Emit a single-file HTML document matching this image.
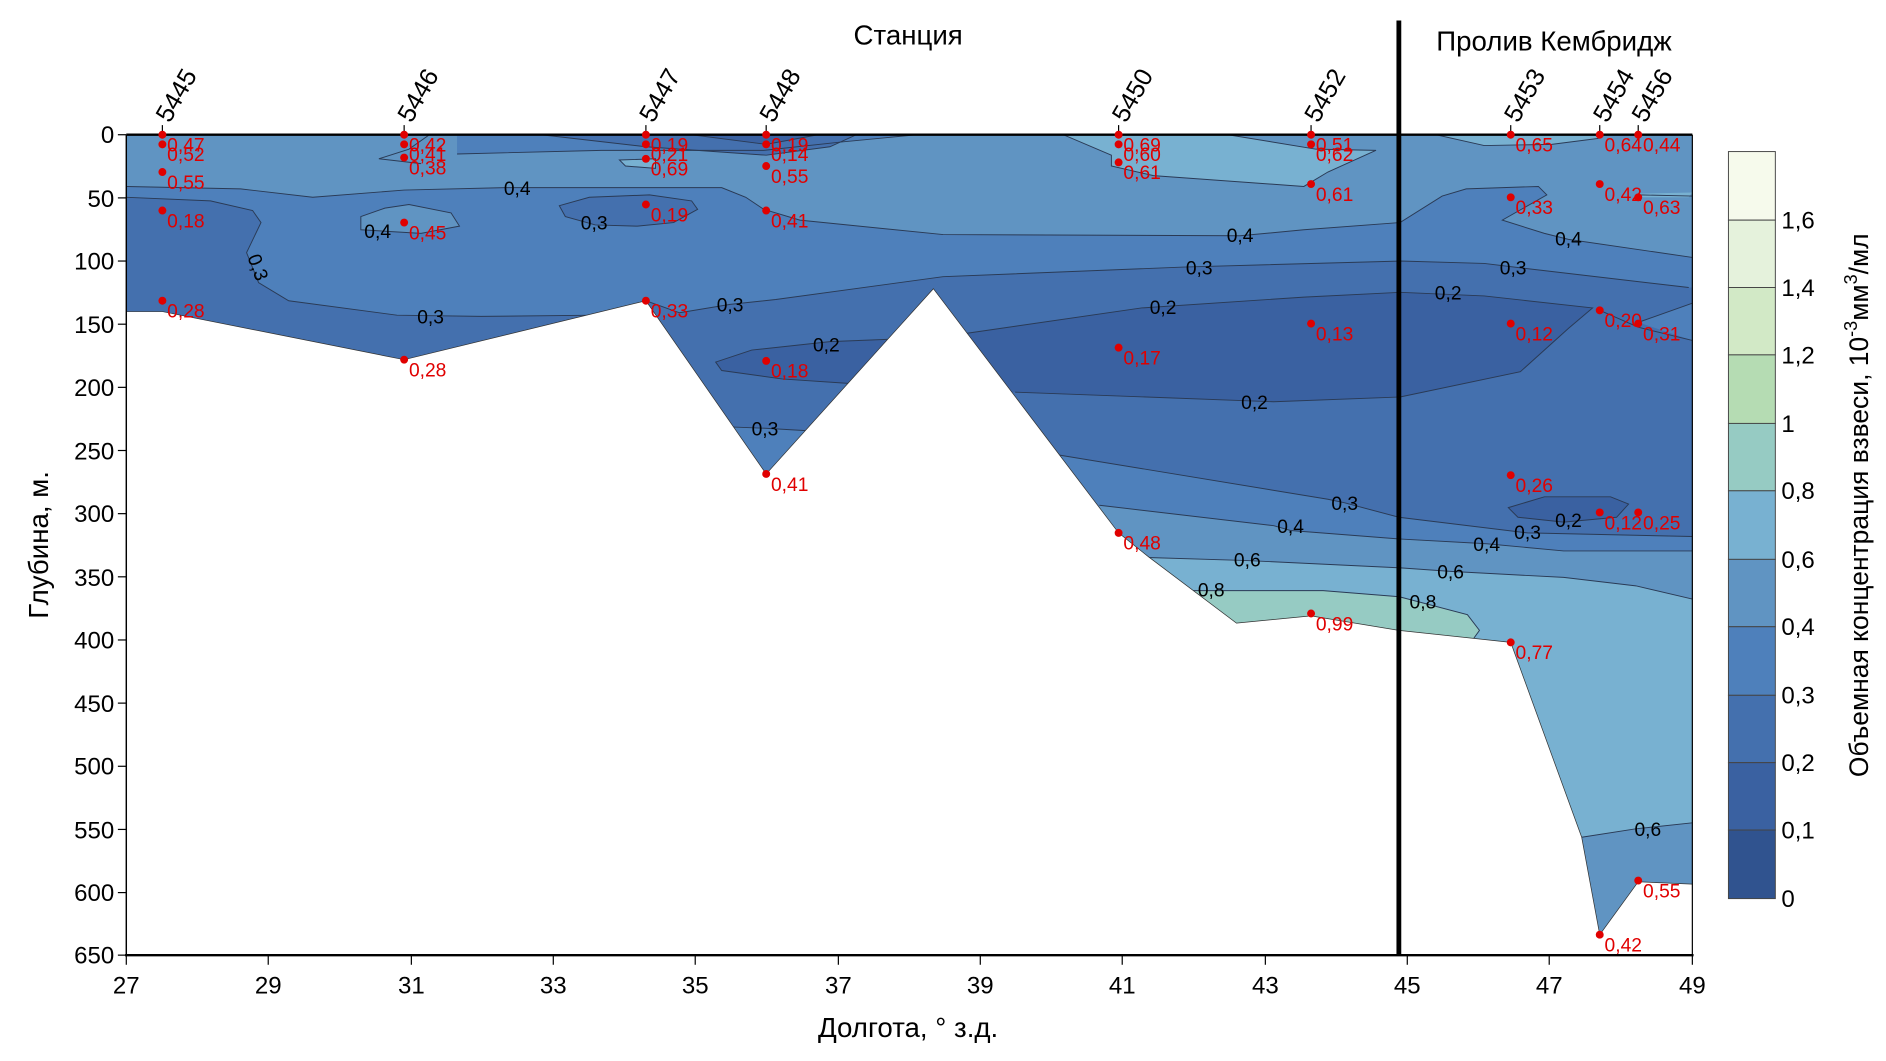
<!DOCTYPE html>
<html><head><meta charset="utf-8"><style>
html,body{margin:0;padding:0;background:#fff;}
svg{display:block;}
text{font-family:"Liberation Sans",sans-serif;}
</style></head><body>
<svg width="1886" height="1061" viewBox="0 0 1568 882" preserveAspectRatio="none" xmlns="http://www.w3.org/2000/svg">
<defs>
<clipPath id="dc"><polygon points="105,112 1407,112 1407,735 1362,733 1330,777 1315,696 1256,534 1163,524 1090,512 1028,518 955,463 930,443 776,240 637,394 537,250 336,299 135,259 105,259"/></clipPath>
</defs>
<g clip-path="url(#dc)">
<rect x="100" y="100" width="1320" height="700" fill="#6094c2"/>
<polygon fill="#4e80bb" points="0,155 105,155 200,157 260,164 336,158 420,156 600,156 620,164 635,174 665,183 784,195 1031,196 1084,191 1164,185 1199,163 1219,157 1279,155 1286,162 1249,183 1284,194 1304,199 1407,214 1450,214 1450,458 1407,458 1300,458 1236,452 1163,448 1073,441 1059,437 914,420 914,900 0,900"/>
<polygon fill="#4e80bb" points="380,128 500,125 635,125 700,118 762,112 380,112"/>
<polygon fill="#6094c2" points="300,180 320,173 340,170 375,177 382,188 350,194 300,191"/>
<polygon fill="#4470ae" points="0,164 105,164 175,167 210,175 217,185 205,210 215,235 240,250 330,262 400,263 495,262 537,250 565,260 607,253 645,249 784,230 984,222 1164,217 1234,219 1284,225 1404,239 1450,239 1450,446 1407,446 1270,443 1163,430 1118,418 1104,415 879,378 700,420 670,358 636,356 610,355 590,420 0,420"/>
<polygon fill="#4470ae" points="465,171 490,164 540,162 575,167 580,174 560,185 530,188 495,187 470,180"/>
<polygon fill="#4470ae" points="450,112 537,122 637,129 690,122 712,112"/>
<polygon fill="#4e80bb" points="1362,268 1407,252 1407,283"/>
<polygon fill="#3a61a1" points="804,277 949,256 1084,247 1164,243 1234,246 1324,256 1304,273 1264,309 1164,330 1059,334 844,326 780,330"/>
<polygon fill="#3a61a1" points="760,282 690,284 625,291 595,301 600,308 650,315 720,320"/>
<polygon fill="#3a61a1" points="1254,422 1284,413 1339,413 1354,419 1344,430 1300,434 1262,430"/>
<polygon fill="#3a61a1" points="575,112 637,120 680,112"/>
<polygon fill="#6094c2" points="914,420 1059,437 1073,441 1163,448 1236,452 1300,458 1407,458 1450,458 1450,900 900,900"/>
<polygon fill="#78b1d1" points="900,463 940,463 1037,466 1163,472 1206,475 1300,480 1360,487 1407,498 1450,498 1450,689 1407,686 1360,689 1315,696 1250,800 900,800"/>
<polygon fill="#6094c2" points="1315,696 1360,689 1407,684 1450,684 1450,800 1300,800"/>
<polygon fill="#78b1d1" points="884,112 924,129 924,138 959,146 1084,155 1104,143 1144,125 1094,124 1021,112"/>
<polygon fill="#78b1d1" points="1194,112 1234,121 1290,120 1329,115 1330,112"/>
<polygon fill="#78b1d1" points="515,133 545,132 545,140 520,138"/>
<polygon fill="#78b1d1" points="1364,164 1404,164 1407,160 1362,161"/>
<polygon fill="#96cbc3" points="990,491 1100,491 1163,496 1220,511 1230,524 1225,531 1256,560 990,560"/>
<g fill="none" stroke="#2a3a55" stroke-width="0.8">
<polyline points="105,155 200,157 260,164 336,158 420,156 600,156 620,164 635,174 665,183 784,195 1031,196 1084,191 1164,185 1199,163 1219,157 1279,155 1286,162 1249,183 1284,194 1304,199 1407,214"/>
<polyline points="105,164 175,167 210,175 217,185 205,210 215,235 240,250 330,262 400,263 495,262 537,250 565,260 607,253 645,249 784,230 984,222 1164,217 1234,219 1284,225 1404,239"/>
<polyline points="1407,446 1270,443 1163,430 1118,418 1104,415 879,378"/>
<polyline points="670,358 636,356 610,355"/>
<polyline points="804,277 949,256 1084,247 1164,243 1234,246 1324,256 1304,273 1264,309 1164,330 1059,334 844,326"/>
<polyline points="740,282 690,284 625,291 595,301 600,308 650,315 710,319"/>
<polygon points="1254,422 1284,413 1339,413 1354,419 1344,430 1300,434 1262,430"/>
<polyline points="914,420 1059,437 1073,441 1163,448 1236,452 1300,458 1407,458"/>
<polyline points="940,463 1037,466 1163,472 1206,475 1300,480 1360,487 1407,498"/>
<polyline points="1315,696 1360,689 1407,684"/>
<polyline points="990,491 1100,491 1163,496 1220,511 1230,524 1225,531"/>
<polyline points="884,112 924,129 924,138 959,146 1084,155 1104,143 1144,125 1094,124 1021,112"/>
<polyline points="1194,112 1234,121 1290,120 1329,115"/>
<polygon points="515,133 545,132 545,140 520,138"/>
<polyline points="380,128 500,125 635,125 700,118 762,112"/>
<polyline points="450,112 537,122 637,129 690,122 712,112"/>
<polyline points="575,112 637,120 680,112"/>
<polyline points="357,112 340,124 315,132 350,136"/>
<polygon points="300,180 320,173 340,170 375,177 382,188 350,194 300,191"/>
<polygon points="465,171 490,164 540,162 575,167 580,174 560,185 530,188 495,187 470,180"/>
<polyline points="1330,258 1362,272 1407,283"/>
<polyline points="1362,268 1407,252"/>
<polyline points="1362,162 1407,163"/>
</g>
</g>
<polyline fill="none" stroke="#333" stroke-width="0.6" points="1407,735 1362,733 1330,777 1315,696 1256,534 1163,524 1090,512 1028,518 955,463 930,443 776,240 637,394 537,250 336,299 135,259 105,259"/>
<g font-size="16" fill="#000" text-anchor="middle">
<text x="430" y="162">0,4</text><text x="314" y="198">0,4</text><text x="494" y="191">0,3</text>
<text x="215" y="228" transform="rotate(70 215 222)">0,3</text>
<text x="358" y="269">0,3</text><text x="607" y="259">0,3</text><text x="687" y="292">0,2</text>
<text x="636" y="362">0,3</text><text x="1031" y="201">0,4</text><text x="997" y="228">0,3</text>
<text x="967" y="261">0,2</text><text x="1043" y="340">0,2</text><text x="1304" y="204">0,4</text>
<text x="1258" y="228">0,3</text><text x="1204" y="249">0,2</text><text x="1118" y="424">0,3</text>
<text x="1073" y="443">0,4</text><text x="1236" y="458">0,4</text><text x="1270" y="448">0,3</text>
<text x="1304" y="438">0,2</text><text x="1037" y="471">0,6</text><text x="1206" y="481">0,6</text>
<text x="1007" y="496">0,8</text><text x="1183" y="506">0,8</text><text x="1370" y="695">0,6</text>
</g>
<g stroke="#000" fill="none">
<line x1="105" y1="112" x2="1407" y2="112" stroke-width="2"/>
<line x1="105" y1="112" x2="105" y2="795" stroke-width="1.2"/>
<line x1="104" y1="794" x2="1408" y2="794" stroke-width="2"/>
<line x1="1407" y1="112" x2="1407" y2="795" stroke-width="1"/>
<line x1="1163" y1="17" x2="1163" y2="794" stroke-width="4"/>
</g>
<g stroke="#000" stroke-width="1">
<line x1="98" y1="112" x2="105" y2="112"/><line x1="98" y1="164.5" x2="105" y2="164.5"/><line x1="98" y1="217" x2="105" y2="217"/><line x1="98" y1="269.5" x2="105" y2="269.5"/><line x1="98" y1="322" x2="105" y2="322"/><line x1="98" y1="374.5" x2="105" y2="374.5"/><line x1="98" y1="427" x2="105" y2="427"/><line x1="98" y1="479.5" x2="105" y2="479.5"/><line x1="98" y1="532" x2="105" y2="532"/><line x1="98" y1="584.5" x2="105" y2="584.5"/><line x1="98" y1="637" x2="105" y2="637"/><line x1="98" y1="689.5" x2="105" y2="689.5"/><line x1="98" y1="742" x2="105" y2="742"/><line x1="98" y1="794" x2="105" y2="794"/>
<line x1="105" y1="794" x2="105" y2="802"/><line x1="223" y1="794" x2="223" y2="802"/><line x1="342" y1="794" x2="342" y2="802"/><line x1="460" y1="794" x2="460" y2="802"/><line x1="578" y1="794" x2="578" y2="802"/><line x1="697" y1="794" x2="697" y2="802"/><line x1="815" y1="794" x2="815" y2="802"/><line x1="933" y1="794" x2="933" y2="802"/><line x1="1052" y1="794" x2="1052" y2="802"/><line x1="1170" y1="794" x2="1170" y2="802"/><line x1="1288" y1="794" x2="1288" y2="802"/><line x1="1407" y1="794" x2="1407" y2="802"/>
</g>
<g font-size="20" text-anchor="end" fill="#000">
<text x="95" y="119">0</text><text x="95" y="172">50</text><text x="95" y="224">100</text><text x="95" y="277">150</text><text x="95" y="329">200</text><text x="95" y="382">250</text><text x="95" y="434">300</text><text x="95" y="487">350</text><text x="95" y="539">400</text><text x="95" y="592">450</text><text x="95" y="644">500</text><text x="95" y="697">550</text><text x="95" y="749">600</text><text x="95" y="801">650</text>
</g>
<g font-size="20" text-anchor="middle" fill="#000">
<text x="105" y="826">27</text><text x="223" y="826">29</text><text x="342" y="826">31</text><text x="460" y="826">33</text><text x="578" y="826">35</text><text x="697" y="826">37</text><text x="815" y="826">39</text><text x="933" y="826">41</text><text x="1052" y="826">43</text><text x="1170" y="826">45</text><text x="1288" y="826">47</text><text x="1407" y="826">49</text>
</g>
<text x="755" y="862" font-size="23" text-anchor="middle">Долгота, ° з.д.</text>
<text x="755" y="37" font-size="23" text-anchor="middle">Станция</text>
<text x="1292" y="42" font-size="23" text-anchor="middle">Пролив Кембридж</text>
<text transform="translate(40 453) rotate(-90)" font-size="23" text-anchor="middle">Глубина, м.</text>
<g font-size="21" fill="#000">
<g stroke="#000" stroke-width="1"><line x1="135" y1="104" x2="135" y2="112"/><line x1="336" y1="104" x2="336" y2="112"/><line x1="537" y1="104" x2="537" y2="112"/><line x1="637" y1="104" x2="637" y2="112"/><line x1="930" y1="104" x2="930" y2="112"/><line x1="1090" y1="104" x2="1090" y2="112"/><line x1="1256" y1="104" x2="1256" y2="112"/><line x1="1330" y1="104" x2="1330" y2="112"/><line x1="1362" y1="104" x2="1362" y2="112"/></g>
<text transform="translate(141 103) rotate(-60)">5445</text>
<text transform="translate(342 103) rotate(-60)">5446</text>
<text transform="translate(543 103) rotate(-60)">5447</text>
<text transform="translate(643 103) rotate(-60)">5448</text>
<text transform="translate(936 103) rotate(-60)">5450</text>
<text transform="translate(1096 103) rotate(-60)">5452</text>
<text transform="translate(1262 103) rotate(-60)">5453</text>
<text transform="translate(1336 103) rotate(-60)">5454</text>
<text transform="translate(1368 103) rotate(-60)">5456</text>
</g>
<g fill="#e00000">
<circle cx="135" cy="112" r="3.3"/><circle cx="135" cy="120" r="3.3"/><circle cx="135" cy="143" r="3.3"/><circle cx="135" cy="175" r="3.3"/><circle cx="135" cy="250" r="3.3"/>
<circle cx="336" cy="112" r="3.3"/><circle cx="336" cy="120" r="3.3"/><circle cx="336" cy="131" r="3.3"/><circle cx="336" cy="185" r="3.3"/><circle cx="336" cy="299" r="3.3"/>
<circle cx="537" cy="112" r="3.3"/><circle cx="537" cy="120" r="3.3"/><circle cx="537" cy="132" r="3.3"/><circle cx="537" cy="170" r="3.3"/><circle cx="537" cy="250" r="3.3"/>
<circle cx="637" cy="112" r="3.3"/><circle cx="637" cy="120" r="3.3"/><circle cx="637" cy="138" r="3.3"/><circle cx="637" cy="175" r="3.3"/><circle cx="637" cy="300" r="3.3"/><circle cx="637" cy="394" r="3.3"/>
<circle cx="930" cy="112" r="3.3"/><circle cx="930" cy="120" r="3.3"/><circle cx="930" cy="135" r="3.3"/><circle cx="930" cy="289" r="3.3"/><circle cx="930" cy="443" r="3.3"/>
<circle cx="1090" cy="112" r="3.3"/><circle cx="1090" cy="120" r="3.3"/><circle cx="1090" cy="153" r="3.3"/><circle cx="1090" cy="269" r="3.3"/><circle cx="1090" cy="510" r="3.3"/>
<circle cx="1256" cy="112" r="3.3"/><circle cx="1256" cy="164" r="3.3"/><circle cx="1256" cy="269" r="3.3"/><circle cx="1256" cy="395" r="3.3"/><circle cx="1256" cy="534" r="3.3"/>
<circle cx="1330" cy="112" r="3.3"/><circle cx="1330" cy="153" r="3.3"/><circle cx="1330" cy="258" r="3.3"/><circle cx="1330" cy="426" r="3.3"/><circle cx="1330" cy="777" r="3.3"/>
<circle cx="1362" cy="112" r="3.3"/><circle cx="1362" cy="164" r="3.3"/><circle cx="1362" cy="269" r="3.3"/><circle cx="1362" cy="426" r="3.3"/><circle cx="1362" cy="732" r="3.3"/>
</g>
<g font-size="16" fill="#e00000">
<text x="139" y="126">0,47</text><text x="139" y="134">0,52</text><text x="139" y="157">0,55</text><text x="139" y="189">0,18</text><text x="139" y="264">0,28</text>
<text x="340" y="126">0,42</text><text x="340" y="134">0,41</text><text x="340" y="145">0,38</text><text x="340" y="199">0,45</text><text x="340" y="313">0,28</text>
<text x="541" y="126">0,19</text><text x="541" y="134">0,21</text><text x="541" y="146">0,69</text><text x="541" y="184">0,19</text><text x="541" y="264">0,33</text>
<text x="641" y="126">0,19</text><text x="641" y="134">0,14</text><text x="641" y="152">0,55</text><text x="641" y="189">0,41</text><text x="641" y="314">0,18</text><text x="641" y="408">0,41</text>
<text x="934" y="126">0,69</text><text x="934" y="134">0,60</text><text x="934" y="149">0,61</text><text x="934" y="303">0,17</text><text x="934" y="457">0,48</text>
<text x="1094" y="126">0,51</text><text x="1094" y="134">0,62</text><text x="1094" y="167">0,61</text><text x="1094" y="283">0,13</text><text x="1094" y="524">0,99</text>
<text x="1260" y="126">0,65</text><text x="1260" y="178">0,33</text><text x="1260" y="283">0,12</text><text x="1260" y="409">0,26</text><text x="1260" y="548">0,77</text>
<text x="1334" y="126">0,64</text><text x="1334" y="167">0,42</text><text x="1334" y="272">0,20</text><text x="1334" y="440">0,12</text><text x="1334" y="791">0,42</text>
<text x="1366" y="126">0,44</text><text x="1366" y="178">0,63</text><text x="1366" y="283">0,31</text><text x="1366" y="440">0,25</text><text x="1366" y="746">0,55</text>
</g>
<g stroke="#444" stroke-width="0.8">
<rect x="1437" y="126" width="39" height="57" fill="#f6faec"/>
<rect x="1437" y="183" width="39" height="56" fill="#e5f2dc"/>
<rect x="1437" y="239" width="39" height="56" fill="#d2e9c6"/>
<rect x="1437" y="295" width="39" height="57" fill="#b5dcb3"/>
<rect x="1437" y="352" width="39" height="56" fill="#96cbc3"/>
<rect x="1437" y="408" width="39" height="57" fill="#78b1d1"/>
<rect x="1437" y="465" width="39" height="56" fill="#6094c2"/>
<rect x="1437" y="521" width="39" height="57" fill="#4e80bb"/>
<rect x="1437" y="578" width="39" height="56" fill="#4470ae"/>
<rect x="1437" y="634" width="39" height="56" fill="#3a61a1"/>
<rect x="1437" y="690" width="39" height="57" fill="#30538f"/>
</g>
<g font-size="20" fill="#000">
<text x="1481" y="190">1,6</text><text x="1481" y="246">1,4</text><text x="1481" y="302">1,2</text><text x="1481" y="359">1</text><text x="1481" y="415">0,8</text><text x="1481" y="472">0,6</text><text x="1481" y="528">0,4</text><text x="1481" y="585">0,3</text><text x="1481" y="641">0,2</text><text x="1481" y="697">0,1</text><text x="1481" y="754">0</text>
</g>
<text transform="translate(1553 420) rotate(-90)" font-size="22" text-anchor="middle">Объемная концентрация взвеси, 10<tspan font-size="15" dy="-9">-3</tspan><tspan dy="9">мм</tspan><tspan font-size="15" dy="-9">3</tspan><tspan dy="9">/мл</tspan></text>
</svg>
</body></html>
